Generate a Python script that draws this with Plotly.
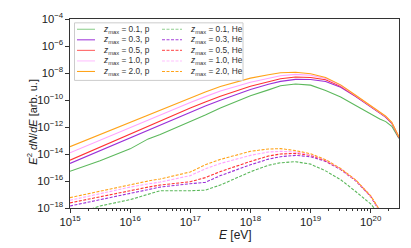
import plotly.graph_objects as go

# ---------------- data (log10 values) ----------------
log_E = [15.0, 15.5, 16.0, 16.3, 16.5, 17.0, 17.25, 17.5, 18.0, 18.3, 18.5,
         18.75, 19.0, 19.25, 19.5, 19.75, 20.0, 20.15, 20.25, 20.35, 20.47]

z_max = ["0.1", "0.3", "0.5", "1.0", "2.0"]

# proton spectra, log10(E^2 dN/dE)
p_z01 = [-15.28, -14.5, -13.62, -12.88, -12.55, -11.62, -11.12, -10.6, -9.68, -9.25, -8.95,
         -8.82, -8.9, -9.3, -9.78, -10.4, -11.05, -11.4, -11.6, -11.95, -12.85]
p_z03 = [-14.70, -13.75, -12.8, -12.24, -11.87, -10.9, -10.45, -10.02, -9.22, -8.83, -8.62,
         -8.47, -8.48, -8.63, -9.06, -9.75, -10.55, -10.97, -11.28, -11.73, -12.8]
p_z05 = [-14.46, -13.48, -12.52, -11.95, -11.57, -10.6, -10.15, -9.72, -8.98, -8.62, -8.42,
         -8.3, -8.33, -8.5, -8.98, -9.7, -10.5, -10.94, -11.25, -11.7, -12.78]
p_z10 = [-13.91, -12.97, -12.05, -11.5, -11.12, -10.18, -9.75, -9.33, -8.68, -8.38, -8.2,
         -8.1, -8.17, -8.4, -8.92, -9.67, -10.47, -10.92, -11.22, -11.67, -12.75]
p_z20 = [-13.46, -12.55, -11.65, -11.1, -10.75, -9.82, -9.4, -9.0, -8.38, -8.13, -7.98,
         -7.95, -8.06, -8.33, -8.88, -9.65, -10.45, -10.9, -11.2, -11.65, -12.75]

# helium spectra, log10(E^2 dN/dE)
he_z01 = [-18.6, -17.85, -17.38, -17.0, -16.72, -16.72, -16.68, -16.3, -15.32, -14.83, -14.65,
          -14.57, -14.75, -15.25, -15.9, -16.78, -17.7, -18.5, -19.5, -20.5, -21.5]
he_z03 = [-17.85, -17.4, -16.95, -16.65, -16.45, -16.2, -16.1, -15.6, -14.8, -14.38, -14.2,
          -14.1, -14.2, -14.55, -15.15, -15.98, -17.15, -18.25, -19.5, -20.5, -21.5]
he_z05 = [-17.62, -17.15, -16.7, -16.45, -16.3, -16.05, -15.75, -15.3, -14.55, -14.15, -14.0,
          -13.95, -14.1, -14.5, -15.12, -15.95, -17.13, -18.2, -19.5, -20.5, -21.5]
he_z10 = [-17.43, -16.95, -16.45, -16.22, -16.08, -15.6, -15.1, -14.7, -14.1, -13.85, -13.8,
          -13.85, -14.05, -14.45, -15.09, -15.93, -17.12, -18.2, -19.5, -20.5, -21.5]
he_z20 = [-17.23, -16.75, -16.26, -16.0, -15.85, -15.33, -14.8, -14.4, -13.8, -13.63, -13.6,
          -13.75, -13.98, -14.42, -15.07, -15.92, -17.1, -18.15, -19.5, -20.5, -21.5]

colors = ["#5cb85c", "#9b30d8", "#ff3333", "#ffa3ff", "#ffa31a"]
legend_colors = ["#90d090", "#a440dc", "#ff6666", "#ffc2ff", "#ffa31a"]

p_series = [p_z01, p_z03, p_z05, p_z10, p_z20]
he_series = [he_z01, he_z03, he_z05, he_z10, he_z20]

E = [10 ** v for v in log_E]

fig = go.Figure()
for z, c, s in zip(z_max, colors, p_series):
    fig.add_trace(go.Scatter(x=E, y=[10 ** v for v in s], mode="lines",
                             line=dict(color=c, width=1.1),
                             name=f"z_max = {z}, p", showlegend=False))
for z, c, s in zip(z_max, colors, he_series):
    fig.add_trace(go.Scatter(x=E, y=[10 ** v for v in s], mode="lines",
                             line=dict(color=c, width=1.1, dash="3px,1.5px"),
                             name=f"z_max = {z}, He", showlegend=False))

# ---------------- layout ----------------
L, R, T, B = 70, 12, 11, 40
W, H = 411, 248
pw, ph = W - L - R, H - T - B


def px(xp):
    return (xp - L) / pw


def py(yp):
    return (H - B - yp) / ph


axis_col = "#333333"
tick_font = dict(family="Liberation Sans, Arial, sans-serif", size=9, color="#222222")

fig.update_layout(
    width=W, height=H,
    margin=dict(l=L, r=R, t=T, b=B),
    plot_bgcolor="white", paper_bgcolor="white",
    showlegend=False,
)
fig.update_xaxes(
    type="log", range=[15, 20.47], dtick=1, exponentformat="power",
    showline=True, linecolor=axis_col, linewidth=1, mirror=True,
    ticks="outside", ticklen=4, tickcolor=axis_col, tickwidth=1,
    minor=dict(ticks="outside", ticklen=2, tickcolor=axis_col, dtick="D1", showgrid=False),
    showgrid=False, zeroline=False, tickfont=tick_font,
)
fig.update_yaxes(
    type="log", range=[-18, -4], dtick=2, exponentformat="power",
    showline=True, linecolor=axis_col, linewidth=1, mirror=True,
    ticks="outside", ticklen=4, tickcolor=axis_col, tickwidth=1,
    showgrid=False, zeroline=False, tickfont=tick_font,
)

ann = []
ann.append(dict(text="<i>E</i> [eV]", x=px(235), y=py(236), xref="paper", yref="paper",
                showarrow=False, xanchor="center", yanchor="middle",
                font=dict(family="Liberation Sans, Arial, sans-serif", size=12, color="#222222")))
ann.append(dict(text="<i>E</i><sup>2</sup> <i>dN</i>/<i>dE</i> [arb. u.]", x=px(32), y=py(118),
                xref="paper", yref="paper", textangle=-90,
                showarrow=False, xanchor="center", yanchor="middle",
                font=dict(family="Liberation Sans, Arial, sans-serif", size=11, color="#222222")))

shapes = []
# legend frame
shapes.append(dict(type="rect", xref="paper", yref="paper",
                   x0=px(74.5), x1=px(243), y0=py(75), y1=py(15),
                   line=dict(color="#cccccc", width=1), fillcolor="rgba(255,255,255,0.85)",
                   layer="above"))
leg_font = dict(family="Liberation Sans, Arial, sans-serif", size=8.3, color="#333333")
for i, (z, c) in enumerate(zip(z_max, legend_colors)):
    yy = py(21.7 + 11 * i)
    shapes.append(dict(type="line", xref="paper", yref="paper", x0=px(77), x1=px(95),
                       y0=yy, y1=yy, line=dict(color=c, width=1.1), layer="above"))
    shapes.append(dict(type="line", xref="paper", yref="paper", x0=px(162), x1=px(182),
                       y0=yy, y1=yy, line=dict(color=c, width=1.1, dash="3px,1.5px"), layer="above"))
    ann.append(dict(text=f"<i>z</i><sub>max</sub> = {z}, p", x=px(101), y=yy, xref="paper", yref="paper",
                    showarrow=False, xanchor="left", yanchor="middle", font=leg_font))
    ann.append(dict(text=f"<i>z</i><sub>max</sub> = {z}, He", x=px(187.5), y=yy, xref="paper", yref="paper",
                    showarrow=False, xanchor="left", yanchor="middle", font=leg_font))

fig.update_layout(annotations=ann, shapes=shapes)
fig.write_html("out.html", config={"displayModeBar": False},
               post_script="document.body.style.margin='0px';")
